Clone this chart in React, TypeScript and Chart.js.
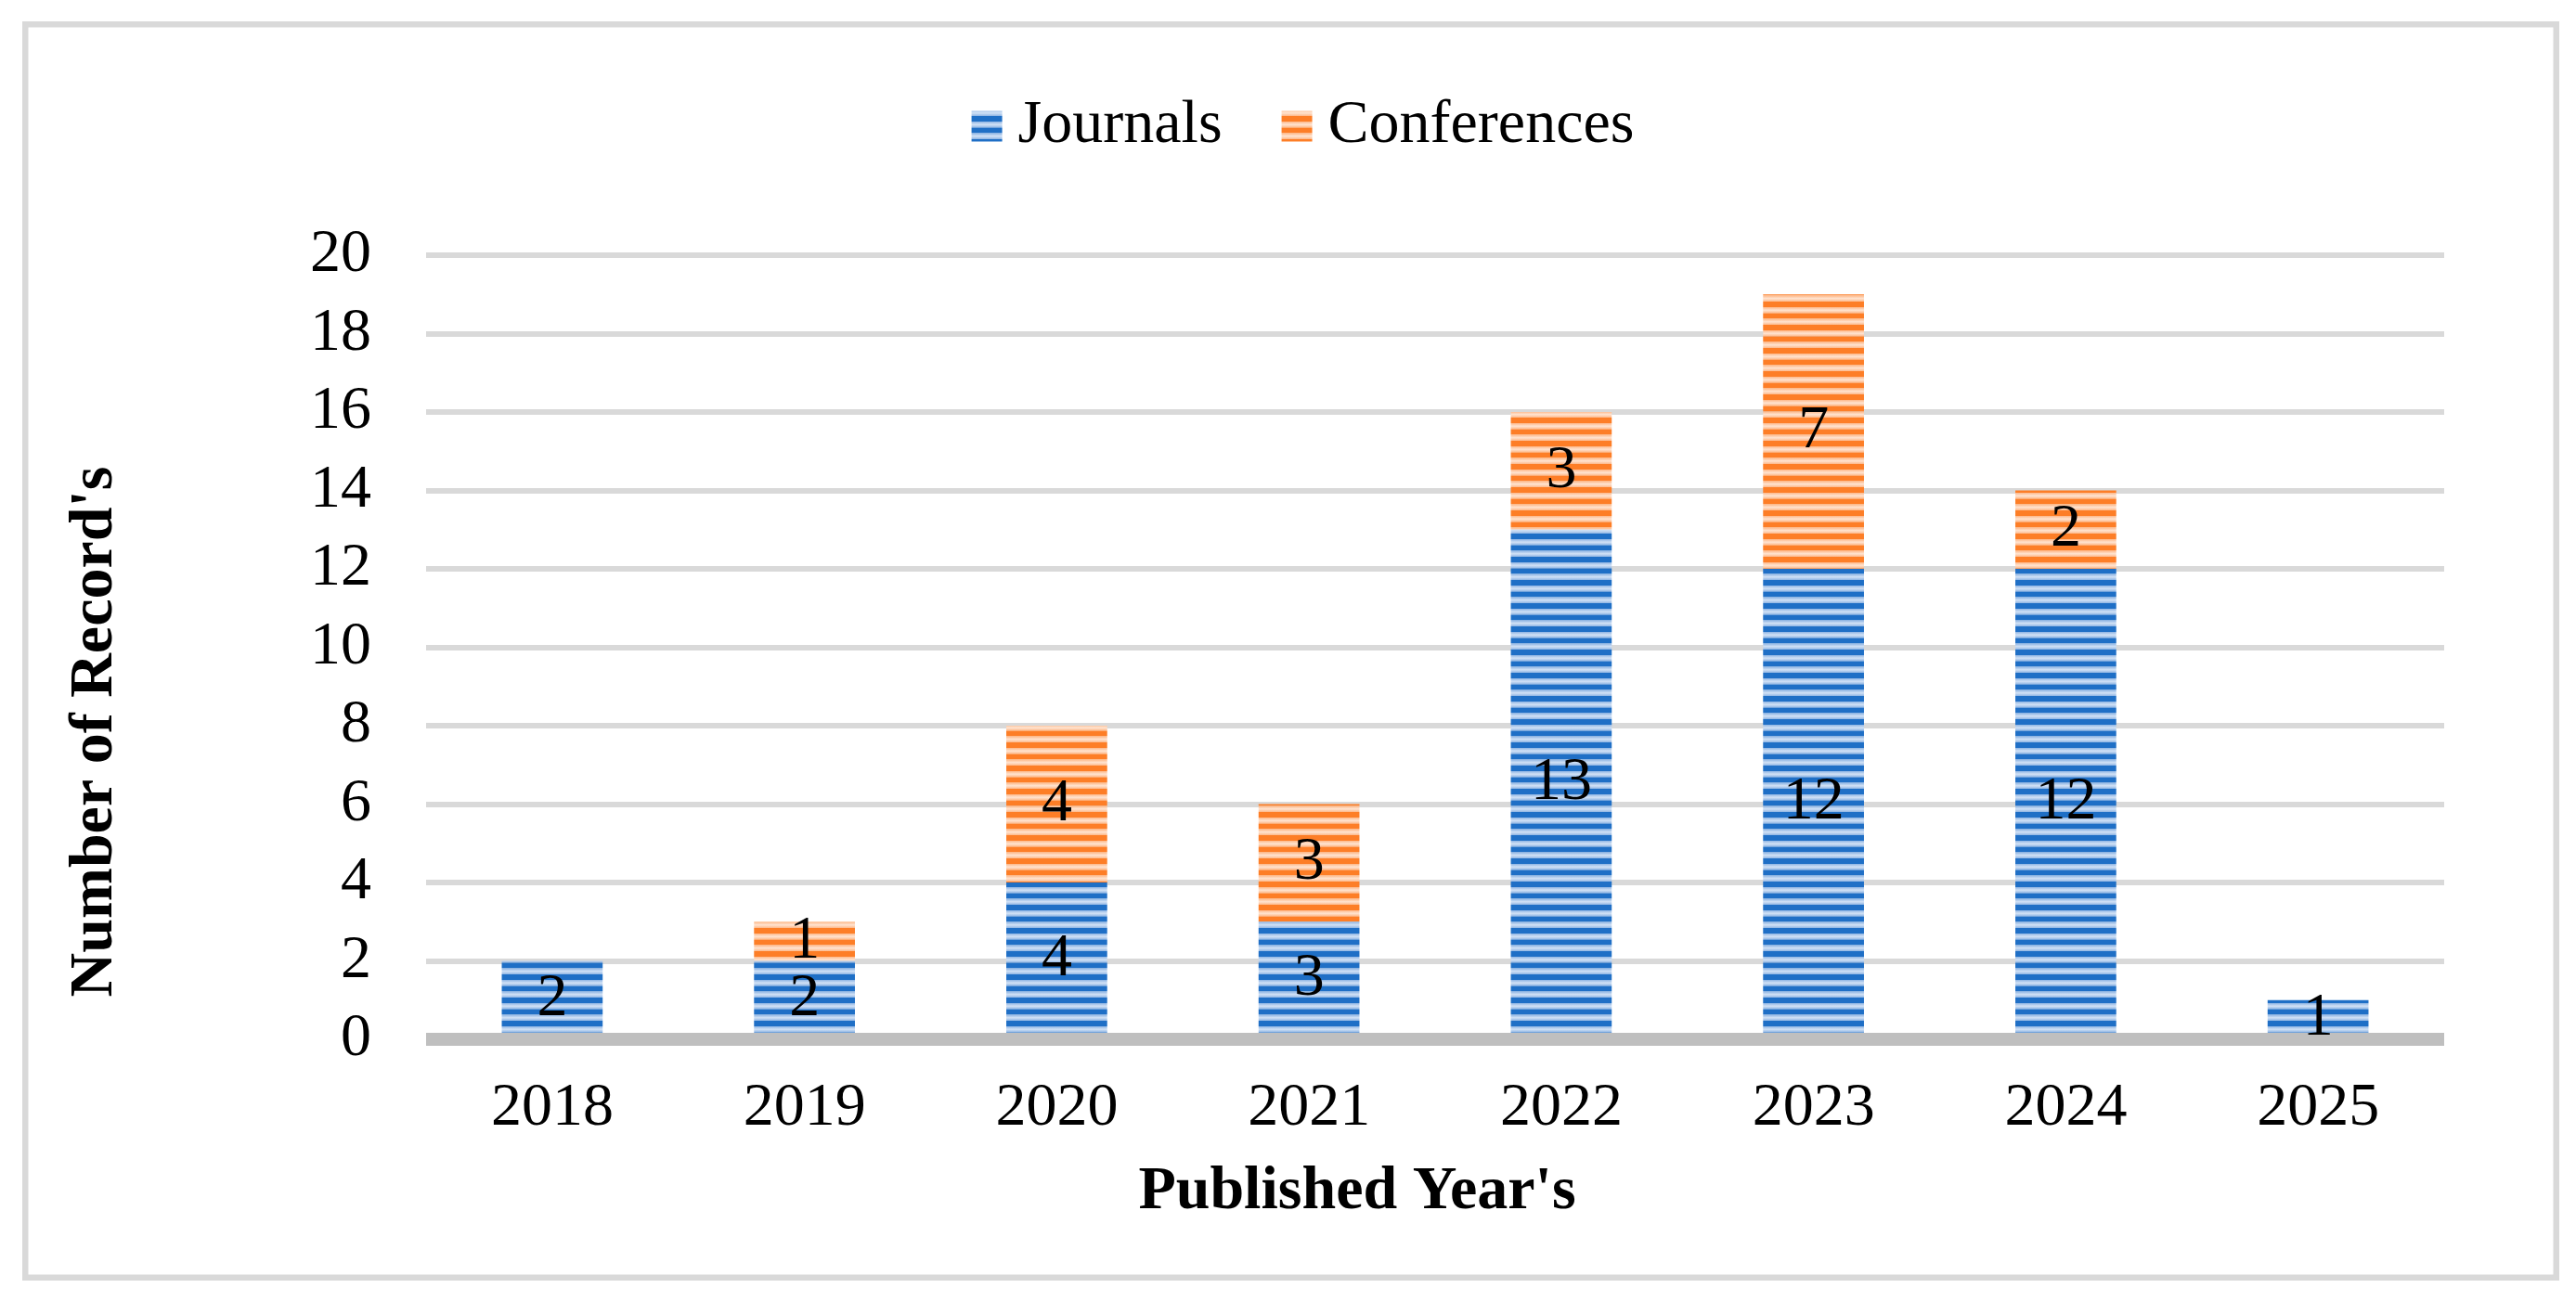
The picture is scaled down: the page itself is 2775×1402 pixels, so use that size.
import React, { useEffect, useRef } from 'react';
import { Chart, registerables, layouts } from 'chart.js';

Chart.register(...registerables);

// ---- data ----
const categories: string[] = ['2018', '2019', '2020', '2021', '2022', '2023', '2024', '2025'];
const journals: number[] = [2, 2, 4, 3, 13, 12, 12, 1];
const conferences: number[] = [0, 1, 4, 3, 3, 7, 2, 0];
const seriesNames: string[] = ['Journals', 'Conferences'];
const yTickMin = 0;
const yTickMax = 20;
const yTickStep = 2;
const xTitleText = "Published Year's";
const yTitleText = "Number of Record's";

const FONT = '"Liberation Serif", "Times New Roman", serif';
const FS = 66;

function makeStripePattern(dark: string, edge: string, center: string): CanvasPattern | string {
  const c = document.createElement('canvas');
  c.width = 4;
  c.height = 25;
  const g = c.getContext('2d');
  if (!g) return dark;
  for (let k = 0; k < 2; k++) {
    const y0 = k * 12.5;
    g.fillStyle = dark;
    g.fillRect(0, y0, 4, 6);
    const grad = g.createLinearGradient(0, y0 + 6, 0, y0 + 12.5);
    grad.addColorStop(0, edge);
    grad.addColorStop(0.5, center);
    grad.addColorStop(1, edge);
    g.fillStyle = grad;
    g.fillRect(0, y0 + 6, 4, 6.5);
  }
  const p = g.createPattern(c, 'repeat');
  return p || dark;
}

const spacerPlugin = {
  id: 'legendSpacer',
  beforeInit(chart: any) {
    const box: any = {
      position: 'top',
      weight: 500,
      fullSize: true,
      options: {},
      left: 0,
      top: 0,
      right: 0,
      bottom: 0,
      width: 0,
      height: 0,
      isHorizontal() {
        return true;
      },
      update(maxWidth: number) {
        this.width = maxWidth;
        this.height = 96;
      },
      draw() {},
    };
    layouts.addBox(chart, box);
  },
};

const decorPlugin = {
  id: 'decor',
  beforeDraw(chart: any) {
    const { ctx } = chart;
    ctx.save();
    ctx.strokeStyle = '#D9D9D9';
    ctx.lineWidth = 6.5;
    ctx.strokeRect(24 + 3.25, 23 + 3.25, 2733 - 6.5, 1357 - 6.5);
    ctx.restore();
  },
  afterDatasetsDraw(chart: any) {
    const { ctx, chartArea } = chart;
    const yScale = chart.scales.y;
    const y0 = yScale.getPixelForValue(0);
    ctx.save();
    // base axis line
    ctx.fillStyle = '#BFBFBF';
    ctx.fillRect(chartArea.left, y0 - 7, chartArea.right - chartArea.left, 14);
    // data labels
    ctx.fillStyle = '#000000';
    ctx.font = `${FS}px ${FONT}`;
    ctx.textAlign = 'center';
    ctx.textBaseline = 'middle';
    chart.data.datasets.forEach((ds: any, di: number) => {
      const meta = chart.getDatasetMeta(di);
      meta.data.forEach((el: any, i: number) => {
        const v = ds.data[i];
        if (!v) return;
        const p = el.getProps(['x', 'y', 'base'], true);
        ctx.fillText(String(v), p.x, (p.y + p.base) / 2);
      });
    });
    ctx.restore();
  },
  afterDraw(chart: any) {
    const { ctx, chartArea } = chart;
    ctx.save();
    ctx.fillStyle = '#000000';
    ctx.font = `bold ${FS}px ${FONT}`;
    ctx.textAlign = 'center';
    ctx.textBaseline = 'middle';
    // x title
    ctx.fillText(xTitleText, (chartArea.left + chartArea.right) / 2 - 84, chartArea.bottom + 165);
    // y title
    ctx.translate(chartArea.left - 356, (chartArea.top + chartArea.bottom) / 2 + 91);
    ctx.rotate(-Math.PI / 2);
    ctx.fillText(yTitleText, 0, 0);
    ctx.restore();
  },
};

export default function App() {
  const ref = useRef<HTMLCanvasElement | null>(null);

  useEffect(() => {
    const canvas = ref.current;
    if (!canvas) return;
    const ctx = canvas.getContext('2d');
    if (!ctx) return;
    const bluePattern = makeStripePattern('#1F6FC6', '#8EB4E3', '#D2E2F6');
    const orangePattern = makeStripePattern('#FD7E27', '#FDB889', '#FFE4D1');

    const chart = new Chart(canvas, {
      type: 'bar',
      data: {
        labels: categories,
        datasets: [
          {
            label: seriesNames[0],
            data: journals,
            backgroundColor: bluePattern as any,
            borderWidth: 0,
            categoryPercentage: 1,
            barPercentage: 0.4,
          },
          {
            label: seriesNames[1],
            data: conferences,
            backgroundColor: orangePattern as any,
            borderWidth: 0,
            categoryPercentage: 1,
            barPercentage: 0.4,
          },
        ],
      },
      options: {
        responsive: false,
        animation: false,
        devicePixelRatio: 1,
        layout: { padding: { top: 23, left: 190, right: 142, bottom: 0 } },
        plugins: {
          tooltip: { enabled: false },
          legend: {
            display: true,
            position: 'top',
            align: 'center',
            labels: {
              usePointStyle: true,
              pointStyle: 'rect',
              boxWidth: 1,
              boxHeight: 33,
              padding: 80,
              color: '#000000',
              font: { family: FONT, size: FS },
            },
          },
        },
        scales: {
          x: {
            stacked: true,
            grid: { display: false, drawTicks: false },
            border: { display: false },
            ticks: {
              color: '#000000',
              font: { family: FONT, size: FS },
              padding: 35,
              maxRotation: 0,
            },
            afterFit: (s: any) => {
              s.height = 282;
            },
          },
          y: {
            stacked: true,
            min: yTickMin,
            max: yTickMax,
            grid: {
              drawTicks: false,
              lineWidth: 6,
              color: (c: any) => (c.tick && c.tick.value === 0 ? 'rgba(0,0,0,0)' : '#D9D9D9'),
            },
            border: { display: false },
            ticks: {
              stepSize: yTickStep,
              color: '#000000',
              font: { family: FONT, size: FS },
              padding: 59,
            },
            afterFit: (s: any) => {
              s.width = 269;
            },
          },
        },
      },
      plugins: [spacerPlugin, decorPlugin],
    } as any);

    return () => {
      chart.destroy();
    };
  }, []);

  return (
    <div style={{ position: 'absolute', left: 0, top: 0, width: 2775, height: 1402, background: '#ffffff' }}>
      <canvas ref={ref} width={2775} height={1402} style={{ display: 'block', width: 2775, height: 1402 }} />
    </div>
  );
}
